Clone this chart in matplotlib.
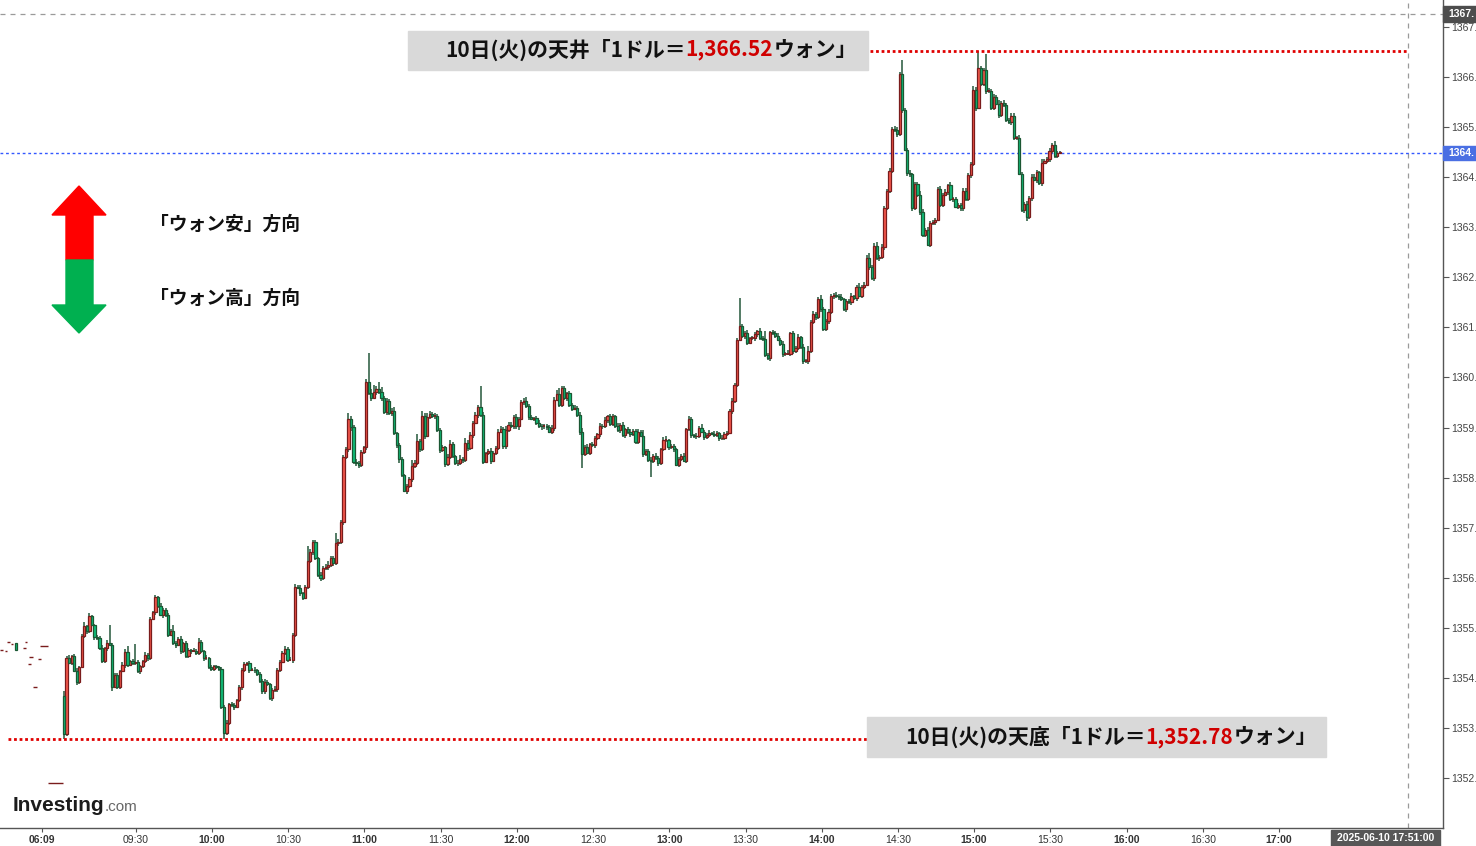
import numpy as np
import matplotlib
matplotlib.use('Agg')
import matplotlib.pyplot as plt
from matplotlib.patches import Rectangle, Polygon

W, H = 1476, 846
JP = ['Noto Sans CJK JP', 'DejaVu Sans']
plt.rcParams['font.family'] = JP

# USD/KRW 1分足 (2025-06-10) 終値
closes = [
    1352.88, 1354.40, 1354.30, 1354.43, 1354.14, 1353.93, 1354.21, 1354.83, 1355.04, 1354.93,
    1355.23, 1355.06, 1354.81, 1354.80, 1354.60, 1354.33, 1354.60, 1354.70, 1354.66, 1353.83,
    1354.06, 1353.83, 1354.14, 1354.26, 1354.52, 1354.26, 1354.34, 1354.30, 1354.31, 1354.13,
    1354.23, 1354.33, 1354.46, 1354.40, 1355.18, 1355.31, 1355.61, 1355.43, 1355.26, 1355.36,
    1355.26, 1354.86, 1354.93, 1354.70, 1354.66, 1354.78, 1354.53, 1354.70, 1354.43, 1354.56,
    1354.54, 1354.54, 1354.50, 1354.71, 1354.53, 1354.40, 1354.40, 1354.21, 1354.18, 1354.23,
    1354.21, 1354.18, 1353.43, 1352.90, 1353.11, 1353.48, 1353.46, 1353.43, 1353.56, 1353.82,
    1354.15, 1354.28, 1354.30, 1354.16, 1354.16, 1354.15, 1354.08, 1353.94, 1353.74, 1353.93,
    1353.88, 1353.61, 1353.76, 1353.78, 1354.16, 1354.32, 1354.50, 1354.58, 1354.36, 1354.36,
    1354.86, 1355.82, 1355.80, 1355.69, 1355.60, 1355.82, 1356.34, 1356.51, 1356.71, 1356.39,
    1356.06, 1355.99, 1356.19, 1356.21, 1356.25, 1356.39, 1356.29, 1356.69, 1356.72, 1357.12,
    1358.41, 1358.57, 1359.17, 1359.01, 1358.32, 1358.29, 1358.25, 1358.51, 1358.61, 1359.90,
    1359.68, 1359.59, 1359.70, 1359.77, 1359.70, 1359.59, 1359.30, 1359.53, 1359.29, 1359.33,
    1358.89, 1358.65, 1358.37, 1358.05, 1357.74, 1357.83, 1357.97, 1358.23, 1358.30, 1358.73,
    1358.57, 1359.23, 1358.84, 1359.21, 1359.27, 1359.23, 1359.23, 1358.95, 1358.55, 1358.61,
    1358.27, 1358.42, 1358.67, 1358.43, 1358.29, 1358.30, 1358.37, 1358.35, 1358.70, 1358.59,
    1358.85, 1359.09, 1359.25, 1359.41, 1359.25, 1358.32, 1358.49, 1358.54, 1358.34, 1358.50,
    1358.59, 1358.92, 1358.97, 1358.63, 1358.95, 1359.05, 1359.02, 1359.21, 1359.02, 1359.17,
    1359.50, 1359.52, 1359.42, 1359.21, 1359.17, 1359.18, 1359.09, 1359.03, 1359.02, 1359.02,
    1359.01, 1358.92, 1359.00, 1359.55, 1359.67, 1359.45, 1359.78, 1359.58, 1359.68, 1359.45,
    1359.37, 1359.39, 1359.25, 1358.92, 1358.47, 1358.61, 1358.50, 1358.67, 1358.65, 1358.79,
    1358.87, 1359.03, 1359.02, 1359.15, 1359.22, 1359.07, 1359.22, 1359.03, 1358.95, 1359.05,
    1358.85, 1358.97, 1358.92, 1358.87, 1358.94, 1358.72, 1358.92, 1358.84, 1358.47, 1358.54,
    1358.36, 1358.33, 1358.44, 1358.39, 1358.30, 1358.57, 1358.75, 1358.75, 1358.61, 1358.63,
    1358.57, 1358.26, 1358.37, 1358.44, 1358.34, 1358.97, 1359.17, 1358.85, 1358.83, 1358.84,
    1358.99, 1358.92, 1358.82, 1358.85, 1358.89, 1358.88, 1358.86, 1358.89, 1358.79, 1358.80,
    1358.88, 1358.90, 1359.32, 1359.53, 1359.85, 1360.75, 1361.02, 1360.82, 1360.88, 1360.69,
    1360.78, 1360.78, 1360.87, 1360.92, 1360.78, 1360.77, 1360.45, 1360.38, 1360.90, 1360.88,
    1360.83, 1360.75, 1360.67, 1360.47, 1360.47, 1360.47, 1360.88, 1360.52, 1360.59, 1360.80,
    1360.61, 1360.32, 1360.32, 1360.52, 1361.10, 1361.27, 1361.20, 1361.56, 1361.36, 1360.96,
    1361.12, 1361.30, 1361.62, 1361.65, 1361.63, 1361.60, 1361.56, 1361.36, 1361.52, 1361.50,
    1361.62, 1361.58, 1361.80, 1361.63, 1361.80, 1361.85, 1362.38, 1362.21, 1361.98, 1362.63,
    1362.38, 1362.41, 1362.61, 1363.38, 1363.73, 1364.11, 1364.96, 1364.93, 1364.86, 1366.06,
    1365.33, 1364.54, 1364.08, 1364.05, 1363.38, 1363.86, 1363.65, 1363.31, 1362.85, 1362.95,
    1362.65, 1363.08, 1363.10, 1363.15, 1363.76, 1363.45, 1363.65, 1363.71, 1363.84, 1363.56,
    1363.56, 1363.41, 1363.45, 1363.38, 1363.73, 1363.56, 1364.04, 1364.26, 1365.74, 1365.38,
    1366.17, 1365.86, 1366.13, 1365.71, 1365.71, 1365.38, 1365.60, 1365.46, 1365.24, 1365.48,
    1365.44, 1365.13, 1365.09, 1365.22, 1364.78, 1364.78, 1364.06, 1363.35, 1363.47, 1363.20,
    1363.58, 1364.00, 1363.95, 1364.09, 1363.88, 1364.28, 1364.31, 1364.36, 1364.51, 1364.64,
    1364.42, 1364.48, 1364.49,
]
first_open = 1353.65

# ヒゲの長さ (0.01ウォン単位)
wick_up = [
    10, 3, 5, 2, 4, 6, 3, 4, 8, 2, 6, 3, 2, 4, 3, 5, 2, 6, 36, 3,
    3, 4, 2, 5, 6, 12, 2, 3, 37, 4, 3, 2, 5, 4, 3, 2, 5, 3, 6, 4,
    4, 3, 5, 12, 4, 3, 6, 2, 4, 3, 2, 5, 3, 8, 4, 3, 5, 2, 4, 3,
    3, 2, 4, 3, 6, 3, 5, 4, 3, 5, 4, 3, 2, 4, 3, 6, 3, 4, 5, 6,
    4, 3, 5, 6, 3, 4, 3, 5, 4, 6, 3, 5, 4, 6, 3, 4, 30, 6, 5, 4,
    3, 5, 4, 6, 8, 4, 5, 20, 6, 4, 5, 4, 12, 5, 3, 6, 4, 5, 3, 6,
    58, 8, 15, 6, 14, 10, 4, 6, 4, 5, 8, 3, 5, 4, 3, 5, 4, 12, 6, 14,
    4, 10, 6, 8, 5, 4, 6, 3, 5, 4, 3, 6, 8, 4, 3, 5, 8, 4, 10, 5,
    6, 3, 5, 4, 41, 5, 3, 4, 6, 3, 4, 5, 6, 4, 8, 5, 6, 4, 5, 3,
    4, 6, 8, 5, 4, 3, 5, 6, 3, 4, 5, 3, 4, 6, 8, 12, 5, 4, 3, 5,
    4, 6, 3, 5, 8, 4, 6, 3, 5, 4, 3, 5, 4, 6, 3, 4, 5, 3, 6, 4,
    5, 3, 4, 6, 3, 4, 5, 3, 12, 4, 3, 6, 3, 5, 4, 3, 6, 8, 3, 5,
    4, 3, 5, 4, 6, 3, 5, 4, 3, 5, 4, 8, 3, 4, 6, 3, 5, 4, 3, 5,
    4, 3, 5, 6, 4, 3, 56, 5, 4, 6, 3, 5, 4, 3, 6, 5, 15, 4, 3, 5,
    4, 6, 3, 5, 4, 8, 3, 5, 4, 6, 3, 5, 4, 10, 4, 6, 3, 5, 8, 4,
    5, 6, 4, 3, 5, 4, 6, 3, 5, 4, 6, 3, 5, 8, 4, 5, 6, 10, 4, 5,
    8, 4, 6, 5, 4, 6, 3, 5, 6, 4, 28, 5, 4, 6, 3, 5, 4, 8, 5, 4,
    6, 4, 5, 3, 5, 6, 4, 5, 3, 6, 4, 5, 3, 4, 6, 5, 4, 3, 8, 5,
    35, 5, 4, 33, 6, 4, 5, 3, 8, 4, 5, 3, 4, 5, 6, 4, 5, 3, 4, 5,
    4, 5, 6, 4, 3, 8, 5, 4, 6, 3, 8, 4, 3,
]
wick_dn = [
    10, 4, 3, 5, 3, 6, 4, 2, 3, 5, 4, 3, 6, 4, 5, 3, 4, 6, 3, 8,
    3, 5, 4, 3, 6, 4, 3, 5, 4, 3, 5, 4, 3, 6, 4, 3, 5, 4, 3, 6,
    4, 5, 3, 4, 6, 3, 5, 4, 3, 4, 6, 3, 5, 4, 3, 6, 4, 3, 5, 4,
    3, 5, 4, 12, 3, 5, 4, 6, 3, 4, 5, 3, 4, 6, 3, 5, 4, 3, 6, 5,
    3, 4, 6, 3, 5, 4, 3, 5, 4, 3, 6, 4, 3, 5, 4, 3, 5, 4, 6, 3,
    5, 6, 4, 3, 5, 4, 6, 3, 5, 4, 6, 3, 5, 8, 4, 6, 5, 4, 3, 5,
    4, 6, 3, 5, 4, 6, 3, 5, 4, 6, 3, 5, 8, 4, 3, 6, 4, 5, 3, 4,
    5, 4, 6, 3, 5, 4, 6, 3, 5, 4, 6, 3, 5, 4, 3, 5, 4, 6, 3, 5,
    4, 5, 3, 6, 4, 5, 3, 4, 6, 3, 5, 4, 3, 6, 5, 4, 3, 5, 4, 6,
    3, 5, 4, 6, 3, 5, 4, 3, 6, 4, 5, 3, 4, 6, 3, 5, 4, 3, 6, 4,
    5, 3, 4, 6, 28, 4, 3, 5, 4, 6, 3, 5, 4, 3, 6, 4, 5, 3, 4, 6,
    3, 5, 4, 6, 3, 5, 4, 3, 6, 4, 5, 31, 4, 3, 6, 5, 4, 3, 5, 4,
    6, 3, 5, 4, 3, 5, 4, 6, 3, 5, 4, 3, 6, 5, 4, 3, 5, 4, 6, 3,
    5, 4, 3, 6, 4, 5, 3, 4, 6, 5, 3, 4, 5, 6, 3, 4, 5, 3, 6, 4,
    5, 3, 4, 6, 5, 3, 4, 6, 3, 5, 4, 6, 3, 5, 4, 3, 6, 4, 5, 3,
    4, 5, 3, 6, 4, 5, 3, 4, 6, 3, 5, 4, 6, 3, 5, 4, 3, 6, 4, 5,
    3, 5, 4, 6, 3, 5, 4, 3, 6, 4, 5, 3, 6, 4, 5, 3, 4, 6, 5, 4,
    3, 5, 4, 6, 3, 5, 4, 3, 6, 4, 5, 3, 4, 6, 5, 4, 3, 5, 4, 6,
    3, 5, 4, 6, 3, 5, 4, 3, 6, 4, 5, 3, 4, 6, 5, 4, 3, 5, 6, 8,
    4, 5, 3, 6, 4, 5, 3, 4, 6, 3, 5, 4, 3,
]

# 早朝の薄商い (始点・終点の足番号, 価格)
pre_start = [-25.2, -23.2, -22.5, -20.9, -16.2, -15.4, -13.8, -14.2, -12.2, -10.2, -9.5, -6.3]
pre_end = [-24.0, -22.4, -21.3, -20.1, -15.0, -14.6, -12.2, -13.0, -10.6, -9.0, -6.3, -0.3]
pre_price = [1354.56, 1354.54, 1354.72, 1354.68, 1354.60, 1354.72, 1354.42, 1354.28, 1353.82,
             1354.38, 1354.64, 1351.90]

tick_labels = ['06:09', '09:30', '10:00', '10:30', '11:00', '11:30', '12:00', '12:30', '13:00',
               '13:30', '14:00', '14:30', '15:00', '15:30', '16:00', '16:30', '17:00']
tick_pos = [-8.7, 28.3] + [58.3 + 30 * k for k in range(15)]

day_high, day_low, last_price = 1366.52, 1352.78, 1364.48
cross_x, cross_price = 529.3, 1367.26

assert len(closes) == len(wick_up) == len(wick_dn)
c = np.array(closes)
o = np.r_[first_open, c[:-1]]
hi = np.maximum(o, c) + np.array(wick_up) / 100
lo = np.minimum(o, c) - np.array(wick_dn) / 100
idx = np.arange(len(c))

RED, RED_EDGE = '#f4574b', '#7a1c1c'
GRN, GRN_EDGE = '#0fc07a', '#1b5733'
WICK = '#24573a'

fig = plt.figure(figsize=(W / 100, H / 100), dpi=100)
ax = fig.add_axes([0, 18 / H, 1443 / W, 828 / H])

ax.vlines(idx, lo, hi, color=WICK, lw=1.1, zorder=2)
up = c > o + 0.001
dn = c < o - 0.001
flat = ~(up | dn)
ax.bar(idx[up], (c - o)[up], bottom=o[up], width=0.86, color=RED, edgecolor=RED_EDGE, lw=0.9, zorder=3)
ax.bar(idx[dn], (o - c)[dn], bottom=c[dn], width=0.86, color=GRN, edgecolor=GRN_EDGE, lw=0.9, zorder=3)
ax.hlines(c[flat], idx[flat] - 0.45, idx[flat] + 0.45, color=RED_EDGE, lw=1.3, zorder=3)

ax.hlines(pre_price, pre_start, pre_end, color=RED_EDGE, lw=1, zorder=3)
ax.bar([-19.0], [0.14], bottom=[1354.56], width=0.86, color=GRN, edgecolor=GRN_EDGE, lw=0.9, zorder=3)

ax.set_xlim(-25.2, 542.9)
ax.set_ylim(1351.006, 1367.533)

for s in ['left', 'top']:
    ax.spines[s].set_visible(False)
for s in ['right', 'bottom']:
    ax.spines[s].set_color('#555555')
    ax.spines[s].set_linewidth(1)

ax.yaxis.tick_right()
yt = list(range(1352, 1368))
ax.set_yticks(yt, [f'{v}.' for v in yt])
ax.tick_params(axis='y', length=4, color='#555555', labelsize=7.5, labelcolor='#444444', pad=2)
ax.set_xticks(tick_pos, tick_labels)
ax.tick_params(axis='x', length=3, color='#555555', labelsize=7.5, labelcolor='#333333', pad=2)
for lab in ax.get_yticklabels():
    lab.set_family('Liberation Sans')
for lab in ax.get_xticklabels():
    lab.set_family('Liberation Sans')
    if lab.get_text().endswith(':00') or lab.get_text() == '06:09':
        lab.set_fontweight('bold')

# crosshair / 現在値
ax.axvline(cross_x, color='#9a9a9a', lw=0.9, ls=(0, (4, 4)), zorder=1)
ax.axhline(cross_price, color='#9a9a9a', lw=0.9, ls=(0, (4, 4)), zorder=1)
ax.axhline(last_price, color='#3358ff', lw=1.0, ls=(0, (2, 2)), zorder=1)

# 天井・天底ライン
ax.hlines(day_high, 317.3, cross_x, color='#e00000', lw=2, ls=(0, (1, 1)), zorder=4)
ax.hlines(day_low, -22.0, 316.0, color='#e00000', lw=2, ls=(0, (1, 1)), zorder=4)


def fxy(px, py):
    return px / W, 1 - py / H


def box(x0, y0, x1, y1, color):
    fig.patches.append(Rectangle(fxy(x0, y1), (x1 - x0) / W, (y1 - y0) / H,
                                 transform=fig.transFigure, color=color, zorder=5))


renderer = fig.canvas.get_renderer()


def rich(px, py, parts, size):
    x = px
    for s, col in parts:
        t = fig.text(*fxy(x, py), s, color=col, fontsize=size, fontweight='bold',
                     va='center', ha='left', family=JP, zorder=6)
        x += t.get_window_extent(renderer).width


box(408, 31, 868, 70, '#d9d9d9')
rich(445, 50, [('10日(火)の天井「1ドル＝', '#111111'), ('1,366.52', '#d00000'),
               ('ウォン」', '#111111')], 15)
box(867, 717, 1326, 757, '#d9d9d9')
rich(905, 737, [('10日(火)の天底「1ドル＝', '#111111'), ('1,352.78', '#d00000'),
                ('ウォン」', '#111111')], 15)

# 矢印
red_arrow = [(52, 215), (79, 186), (106, 215), (93, 215), (93, 260), (66, 260), (66, 215)]
grn_arrow = [(66, 260), (93, 260), (93, 305), (106, 305), (79, 333), (52, 305), (66, 305)]
fig.patches.append(Polygon([fxy(*p) for p in red_arrow], closed=True, transform=fig.transFigure,
                           color='#ff0000', zorder=5))
fig.patches.append(Polygon([fxy(*p) for p in grn_arrow], closed=True, transform=fig.transFigure,
                           color='#00b050', zorder=5))
fig.text(*fxy(150, 224), '「ウォン安」方向', fontsize=13.5, fontweight='bold', va='center', color='#111111')
fig.text(*fxy(150, 298), '「ウォン高」方向', fontsize=13.5, fontweight='bold', va='center', color='#111111')

# 右軸の価格ラベル
box(1443, 6, 1476, 22, '#4d4d4d')
fig.text(*fxy(1448, 14), f'{cross_price:.0f}.', color='white', fontsize=7.5, fontweight='bold',
         va='center', family='Liberation Sans', zorder=6)
box(1443, 146, 1476, 160, '#4a6fe3')
fig.text(*fxy(1448, 153), f'{last_price:.0f}.', color='white', fontsize=7.5, fontweight='bold',
         va='center', family='Liberation Sans', zorder=6)
box(1331, 830, 1440, 846, '#575757')
fig.text(*fxy(1385.5, 838), '2025-06-10 17:51:00', color='white', fontsize=7.5, fontweight='bold',
         va='center', ha='center', family='Liberation Sans', zorder=6)

# ロゴ
t = fig.text(*fxy(13, 805), 'Investing', fontsize=15, fontweight='bold', va='center',
             family='Liberation Sans', color='#1c1c1c')
wlogo = t.get_window_extent(renderer).width
fig.text(*fxy(13 + wlogo, 807), '.com', fontsize=11, va='center', family='Liberation Sans', color='#666666')

fig.savefig('out.png', dpi=100)
